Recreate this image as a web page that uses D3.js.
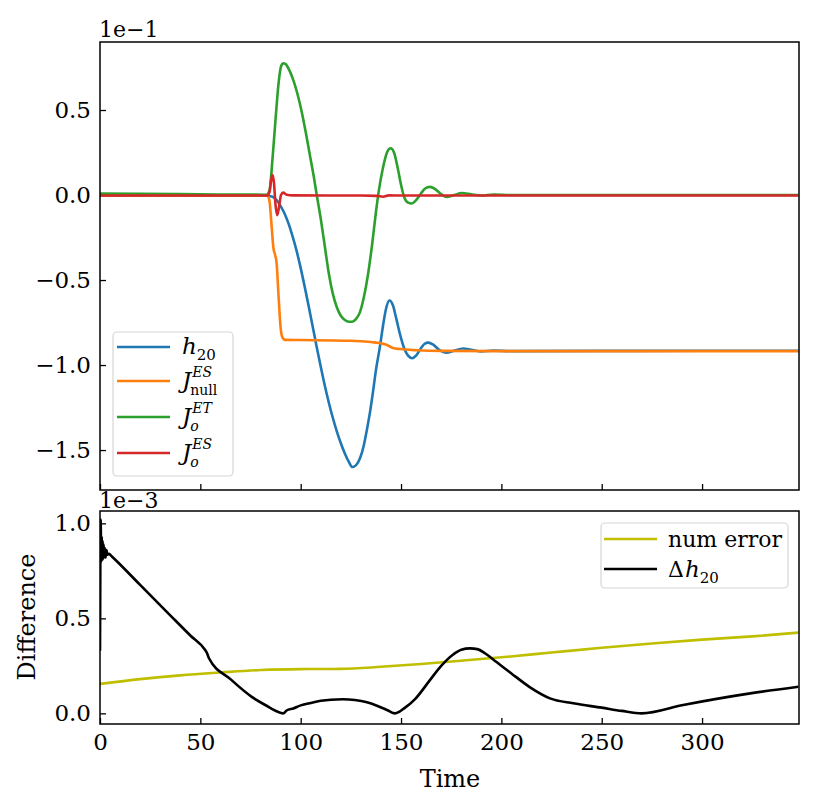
<!DOCTYPE html>
<html>
<head>
<meta charset="utf-8">
<script src="https://cdn.jsdelivr.net/npm/d3@7"></script>
<style>
  body { margin: 0; background: #fff; }
  svg text { font-family: "DejaVu Serif", serif; }
</style>
</head>
<body>
<div id="mainDiv"></div>
<script>
'use strict';

// top panel, values in units of 1e-1
var h20 = [[0,-0.004],[50,-0.004],[83,-0.004],[86,-0.01],[88,-0.03],[90,-0.065],[92,-0.11],[94,-0.17],[96,-0.245],[98,-0.33],[100,-0.43],[102,-0.54],[104,-0.655],[106,-0.775],[108,-0.895],[110,-1.01],[112,-1.12],[114,-1.22],[116,-1.31],[118,-1.39],[120,-1.46],[122,-1.52],[124,-1.57],[125.7,-1.6],[127.5,-1.59],[129.5,-1.55],[131.5,-1.47],[133,-1.38],[134.5,-1.28],[136,-1.16],[137.5,-1.03],[139.5,-0.89],[141,-0.77],[142.5,-0.67],[144.2,-0.62],[146,-0.65],[147.5,-0.72],[149.5,-0.82],[151.5,-0.9],[153.5,-0.945],[155.6,-0.96],[157.5,-0.945],[160,-0.9],[161.8,-0.875],[163.6,-0.868],[166,-0.88],[169,-0.91],[172.7,-0.928],[176,-0.918],[181,-0.903],[185,-0.91],[190,-0.92],[196,-0.915],[205,-0.918],[250,-0.917],[300,-0.916],[348,-0.916]];

var jNullES = [[0,-0.002],[50,-0.002],[83.5,-0.003],[84.5,-0.04],[85.5,-0.18],[86.4,-0.31],[87.2,-0.35],[88,-0.4],[89,-0.6],[90,-0.78],[90.8,-0.835],[92.2,-0.852],[100,-0.853],[124.6,-0.857],[135,-0.865],[141,-0.875],[143.5,-0.885],[146,-0.9],[149.5,-0.906],[157.8,-0.913],[170,-0.917],[200,-0.918],[348,-0.918]];

var jOET = [[0,0.008],[40,0.005],[83,0.002],[84.5,0.03],[86,0.22],[87.5,0.45],[89,0.66],[90.3,0.76],[91.3,0.775],[92.5,0.77],[94.5,0.73],[96.5,0.67],[98.5,0.59],[100.5,0.49],[102.5,0.37],[104.5,0.24],[106.5,0.11],[108,0.0],[110,-0.14],[112,-0.3],[114,-0.46],[116,-0.58],[118,-0.66],[120,-0.71],[122,-0.735],[124,-0.745],[125.7,-0.745],[127.5,-0.73],[129.5,-0.69],[131.5,-0.6],[133.5,-0.47],[135.5,-0.3],[137.5,-0.1],[139,0.03],[141,0.16],[143,0.25],[144.8,0.275],[146.5,0.25],[148.5,0.15],[150,0.06],[151.5,-0.01],[153.5,-0.045],[155.3,-0.05],[157.5,-0.03],[160,0.01],[162,0.038],[164.4,0.048],[167,0.035],[170,0.005],[172.7,-0.012],[176,-0.002],[180.4,0.012],[185,0.004],[190,-0.003],[196,0.003],[205,0.0],[348,0.0]];

var jOES = [[0,-0.003],[50,-0.003],[83.5,-0.003],[84.5,0.02],[85.3,0.09],[86,0.118],[86.7,0.07],[87.4,-0.05],[88.3,-0.118],[89.2,-0.07],[90.2,0.0],[91.3,0.014],[93,0.002],[96,-0.002],[130,-0.003],[138,-0.005],[141,-0.01],[144,-0.002],[150,-0.003],[348,-0.003]];

// bottom panel, values in units of 1e-3
var numError = [[0,0.155],[20,0.18],[40,0.2],[60,0.215],[80,0.228],[100,0.233],[120,0.234],[140,0.245],[160,0.26],[180,0.277],[200,0.295],[225,0.32],[250,0.345],[275,0.368],[300,0.388],[325,0.405],[348,0.425]];

var deltaH20 = [[0,0.33],[0.15,0.75],[0.3,1.02],[0.5,0.9],[0.7,0.8],[0.9,0.93],[1.1,0.82],[1.3,0.91],[1.5,0.81],[1.8,0.89],[2.1,0.82],[2.4,0.87],[2.8,0.82],[3.2,0.86],[3.7,0.835],[4.5,0.84],[5.5,0.83],[7.5,0.81],[20,0.676],[35,0.516],[45,0.41],[52.3,0.335],[53.3,0.318],[54.3,0.29],[65,0.18],[75.6,0.087],[83,0.04],[89.5,0.005],[91.3,0.0],[93,0.015],[96.3,0.026],[100,0.042],[105,0.055],[110,0.066],[115,0.072],[121,0.074],[127,0.07],[133,0.058],[138,0.04],[143,0.018],[147,0.0],[152,0.03],[157,0.075],[164.4,0.175],[170,0.25],[176,0.31],[180,0.335],[184.4,0.342],[188,0.338],[192,0.315],[197.6,0.27],[205,0.21],[214.3,0.137],[224.2,0.079],[235.8,0.053],[250,0.03],[260,0.013],[269.9,0.0],[290.6,0.044],[324,0.105],[348,0.14]];

var xTicks = [0, 50, 100, 150, 200, 250, 300];
var topYTicks = [-1.5, -1.0, -0.5, 0.0, 0.5];
var botYTicks = [0.0, 0.5, 1.0];

var chart = {};
chart.width = 815;
chart.height = 811;
chart.left = 100;
chart.right = 799;
chart.top = {y0: 42, y1: 490};
chart.bot = {y0: 511, y1: 724};

chart.x = d3.scaleLinear().domain([0, 348.3]).range([chart.left, chart.right]);
chart.yTop = d3.scaleLinear().domain([-1.735, 0.9]).range([chart.top.y1, chart.top.y0]);
chart.yBot = d3.scaleLinear().domain([-0.056, 1.065]).range([chart.bot.y1, chart.bot.y0]);

chart.drawLine = function(g, data, yScale, color, width) {
    var line = d3.line()
        .x(function(d) { return chart.x(d[0]); })
        .y(function(d) { return yScale(d[1]); })
        .curve(d3.curveMonotoneX);
    g.append('path')
        .datum(data)
        .attr('d', line)
        .attr('fill', 'none')
        .attr('stroke', color)
        .attr('stroke-width', width)
        .attr('stroke-linejoin', 'round');
};

chart.drawPanel = function(svg, name, panel, yScale, yTicks, showXLabels) {
    var clip = svg.append('clipPath').attr('id', 'clip-' + name);
    clip.append('rect')
        .attr('x', chart.left).attr('y', panel.y0)
        .attr('width', chart.right - chart.left).attr('height', panel.y1 - panel.y0);

    var yAxis = d3.axisLeft(yScale).tickValues(yTicks).tickSize(-6).tickPadding(9).tickFormat(d3.format('.1f'));
    var yg = svg.append('g').attr('transform', 'translate(' + chart.left + ',0)').call(yAxis);

    var xAxis = d3.axisBottom(chart.x).tickValues(xTicks).tickSize(-6).tickPadding(10);
    if (!showXLabels) xAxis.tickFormat('');
    var xg = svg.append('g').attr('transform', 'translate(0,' + panel.y1 + ')').call(xAxis);

    [yg, xg].forEach(function(g) {
        g.select('.domain').remove();
        g.selectAll('.tick line').attr('stroke', '#000').attr('stroke-width', 1.3);
        g.selectAll('.tick text').attr('fill', '#000').style('font-size', '23px');
    });

    var plot = svg.append('g').attr('clip-path', 'url(#clip-' + name + ')');
    return plot;
};

chart.frame = function(svg, panel) {
    svg.append('rect')
        .attr('x', chart.left).attr('y', panel.y0)
        .attr('width', chart.right - chart.left).attr('height', panel.y1 - panel.y0)
        .attr('fill', 'none').attr('stroke', '#000').attr('stroke-width', 1.5);
};

chart.legendBox = function(svg, x, y, w, h) {
    svg.append('rect')
        .attr('x', x).attr('y', y).attr('width', w).attr('height', h)
        .attr('rx', 4).attr('ry', 4)
        .attr('fill', '#fff').attr('fill-opacity', 0.8)
        .attr('stroke', '#d6d6d6').attr('stroke-width', 1.2);
};

// math-ish label: base italic letter with optional sup / sub
chart.mathLabel = function(g, x, y, base, sup, sub, subItalic, supItalic) {
    var t = g.append('text').attr('x', x).attr('y', y)
        .style('font-size', '23px').style('font-style', 'italic').text(base);
    var w = t.node().getComputedTextLength();
    if (sup) {
        g.append('text').attr('x', x + w + 1).attr('y', y - 11)
            .style('font-size', '14px').style('font-style', supItalic ? 'italic' : 'normal').text(sup);
    }
    if (sub) {
        g.append('text').attr('x', x + w + (sup ? -1 : 0)).attr('y', y + (sup ? 7 : 6))
            .style('font-size', sup ? '14px' : '15px').style('font-style', subItalic ? 'italic' : 'normal').text(sub);
    }
};

chart.start = function() {
    var svg = d3.select('#mainDiv').append('svg')
        .attr('width', chart.width).attr('height', chart.height);

    // top panel
    var topPlot = chart.drawPanel(svg, 'top', chart.top, chart.yTop, topYTicks, false);
    chart.drawLine(topPlot, h20, chart.yTop, '#1f77b4', 2.6);
    chart.drawLine(topPlot, jNullES, chart.yTop, '#ff7f0e', 2.6);
    chart.drawLine(topPlot, jOET, chart.yTop, '#2ca02c', 2.6);
    chart.drawLine(topPlot, jOES, chart.yTop, '#d62728', 2.6);
    chart.frame(svg, chart.top);

    svg.append('text').attr('x', 99).attr('y', 37).style('font-size', '22px').text('1e\u22121');

    // top legend
    chart.legendBox(svg, 113, 332, 120, 144);
    var topLegend = [
        {color: '#1f77b4', y: 347, base: 'h', sup: null, sub: '20', subIt: false},
        {color: '#ff7f0e', y: 381, base: 'J', sup: 'ES', sub: 'null', subIt: false},
        {color: '#2ca02c', y: 417, base: 'J', sup: 'ET', sub: 'o', subIt: true},
        {color: '#d62728', y: 453, base: 'J', sup: 'ES', sub: 'o', subIt: true}
    ];
    var lg = svg.append('g');
    topLegend.forEach(function(d) {
        lg.append('line').attr('x1', 117).attr('x2', 170).attr('y1', d.y).attr('y2', d.y)
            .attr('stroke', d.color).attr('stroke-width', 2.6);
        chart.mathLabel(lg, 182, d.y + 7, d.base, d.sup, d.sub, d.subIt, true);
    });

    // bottom panel
    var botPlot = chart.drawPanel(svg, 'bot', chart.bot, chart.yBot, botYTicks, true);
    chart.drawLine(botPlot, numError, chart.yBot, '#bfbf00', 2.6);
    chart.drawLine(botPlot, deltaH20, chart.yBot, '#000', 2.6);
    chart.frame(svg, chart.bot);

    svg.append('text').attr('x', 99).attr('y', 508).style('font-size', '22px').text('1e\u22123');

    svg.append('text').attr('x', 450).attr('y', 787).attr('text-anchor', 'middle')
        .style('font-size', '24px').text('Time');
    svg.append('text').attr('transform', 'translate(35,617) rotate(-90)').attr('text-anchor', 'middle')
        .style('font-size', '24px').text('Difference');

    // bottom legend
    chart.legendBox(svg, 601, 523, 187, 65);
    var bl = svg.append('g');
    bl.append('line').attr('x1', 604).attr('x2', 657).attr('y1', 539).attr('y2', 539)
        .attr('stroke', '#bfbf00').attr('stroke-width', 2.6);
    bl.append('text').attr('x', 668).attr('y', 547).style('font-size', '22px').text('num error');
    bl.append('line').attr('x1', 604).attr('x2', 657).attr('y1', 569).attr('y2', 569)
        .attr('stroke', '#000').attr('stroke-width', 2.6);
    var dt = bl.append('text').attr('x', 668).attr('y', 577).style('font-size', '22px').text('\u0394');
    var dw = dt.node().getComputedTextLength();
    chart.mathLabel(bl, 668 + dw + 1, 577, 'h', null, '20', false, false);
};

window.onload = chart.start;
</script>
</body>
</html>
